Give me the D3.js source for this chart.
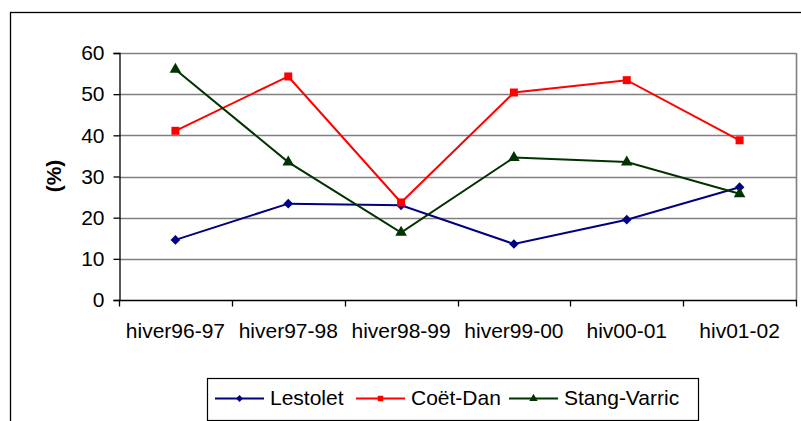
<!DOCTYPE html>
<html>
<head>
<meta charset="utf-8">
<script src="https://cdn.jsdelivr.net/npm/d3@7"></script>
<style>
  html, body { margin: 0; padding: 0; background: #fff; }
  svg { display: block; font-family: "Liberation Sans", Arial, sans-serif; }
</style>
</head>
<body>
<svg id="chart" width="801" height="421"></svg>
<script>
// Winter periods and percentages per site
const categories = ["hiver96-97", "hiver97-98", "hiver98-99", "hiver99-00", "hiv00-01", "hiv01-02"];
const lestolet = [14.6, 23.4, 23.0, 13.6, 19.5, 27.4];
const coetDan = [41.1, 54.3, 23.7, 50.4, 53.4, 38.8];
const stangVarric = [56.0, 33.5, 16.4, 34.6, 33.5, 25.8];
const yTicks = [0, 10, 20, 30, 40, 50, 60];

const seriesList = [
  { name: "Lestolet", values: lestolet, color: "#000080", marker: "diamond" },
  { name: "Coët-Dan", values: coetDan, color: "#ff0000", marker: "square" },
  { name: "Stang-Varric", values: stangVarric, color: "#003300", marker: "triangle" }
];

const svg = d3.select("#chart");
const plot = { left: 119, right: 796, top: 53, bottom: 300 };

const x = d3.scaleBand().domain(categories).range([plot.left, plot.right]);
const y = d3.scaleLinear().domain([0, 60]).range([plot.bottom, plot.top]);

// Outer chart frame (runs past the right and bottom edges)
svg.append("rect")
  .attr("x", 10.5).attr("y", 12.5)
  .attr("width", 820).attr("height", 430)
  .attr("fill", "none").attr("stroke", "#000").attr("stroke-width", 1.3);

// Gridlines
svg.append("g").selectAll("line")
  .data(yTicks.filter(d => d > 0))
  .join("line")
  .attr("x1", plot.left).attr("x2", plot.right)
  .attr("y1", d => Math.round(y(d)) + 0.5).attr("y2", d => Math.round(y(d)) + 0.5)
  .attr("stroke", "#808080").attr("stroke-width", 1.4);

// Plot area right border
svg.append("line")
  .attr("x1", plot.right + 0.5).attr("x2", plot.right + 0.5)
  .attr("y1", y(60)).attr("y2", plot.bottom)
  .attr("stroke", "#808080").attr("stroke-width", 1.6);

// Y axis
const yAxis = svg.append("g")
  .attr("transform", `translate(${plot.left + 0.5},0)`)
  .call(d3.axisLeft(y).tickValues(yTicks).tickSize(6).tickPadding(9));
yAxis.select(".domain").attr("stroke", "#000").attr("stroke-width", 1.3);
yAxis.selectAll(".tick line").attr("stroke", "#000").attr("stroke-width", 1.3);
yAxis.selectAll(".tick text")
  .attr("font-size", 21).attr("fill", "#000")
  .attr("font-family", "Liberation Sans, Arial, sans-serif");

// X axis with ticks between categories
const xAxisG = svg.append("g").attr("transform", `translate(0,${plot.bottom + 0.5})`);
xAxisG.append("line")
  .attr("x1", plot.left).attr("x2", plot.right + 1)
  .attr("stroke", "#000").attr("stroke-width", 1.3);
const boundaries = categories.map(c => x(c)).concat([x(categories[categories.length - 1]) + x.bandwidth()]);
xAxisG.selectAll("line.tk")
  .data(boundaries)
  .join("line").attr("class", "tk")
  .attr("x1", d => Math.round(d) + 0.5).attr("x2", d => Math.round(d) + 0.5)
  .attr("y1", 0).attr("y2", 6)
  .attr("stroke", "#000").attr("stroke-width", 1.3);
xAxisG.selectAll("text")
  .data(categories)
  .join("text")
  .attr("x", d => x(d) + x.bandwidth() / 2)
  .attr("y", 37.5)
  .attr("text-anchor", "middle")
  .attr("font-size", 21)
  .attr("fill", "#000")
  .text(d => d);

// Y axis title
svg.append("text")
  .attr("transform", "translate(61,176) rotate(-90)")
  .attr("text-anchor", "middle")
  .attr("font-size", 21)
  .attr("font-weight", "bold")
  .attr("fill", "#000")
  .text("(%)");

// Marker shapes
const symbolFor = {
  diamond: d3.symbol().type(d3.symbolDiamond2).size(60),
  square: d3.symbol().type(d3.symbolSquare).size(64),
  triangle: d3.symbol().type(d3.symbolTriangle).size(58)
};

const line = d3.line()
  .x((d, i) => x(categories[i]) + x.bandwidth() / 2)
  .y(d => y(d));

seriesList.forEach(s => {
  const g = svg.append("g");
  g.append("path")
    .attr("d", line(s.values))
    .attr("fill", "none")
    .attr("stroke", s.color)
    .attr("stroke-width", 2);
  g.selectAll("path.mk")
    .data(s.values)
    .join("path").attr("class", "mk")
    .attr("transform", (d, i) => `translate(${x(categories[i]) + x.bandwidth() / 2},${y(d)})`)
    .attr("d", symbolFor[s.marker]())
    .attr("fill", s.color);
});

// Legend
const legend = svg.append("g");
legend.append("rect")
  .attr("x", 207.5).attr("y", 378.5)
  .attr("width", 491).attr("height", 42)
  .attr("fill", "#fff").attr("stroke", "#000").attr("stroke-width", 1.2);

const legendX = [215, 356, 509];
seriesList.forEach((s, i) => {
  const lx = legendX[i];
  legend.append("line")
    .attr("x1", lx).attr("x2", lx + 49)
    .attr("y1", 398.5).attr("y2", 398.5)
    .attr("stroke", s.color).attr("stroke-width", 2);
  legend.append("path")
    .attr("transform", `translate(${lx + 24.5},398.5)`)
    .attr("d", d3.symbol().type(
      s.marker === "diamond" ? d3.symbolDiamond2 :
      s.marker === "square" ? d3.symbolSquare : d3.symbolTriangle).size(30)())
    .attr("fill", s.color);
  legend.append("text")
    .attr("x", lx + 55).attr("y", 405)
    .attr("font-size", 21)
    .attr("fill", "#000")
    .text(s.name);
});
</script>
</body>
</html>
